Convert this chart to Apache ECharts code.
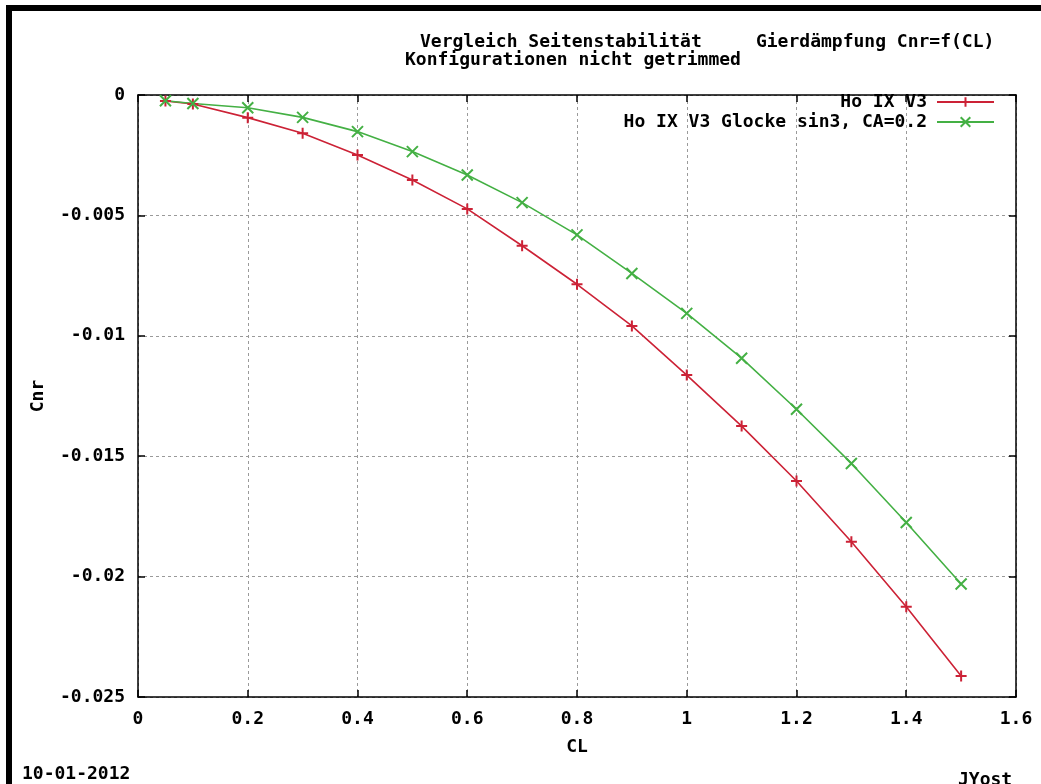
<!DOCTYPE html>
<html>
<head>
<meta charset="utf-8">
<script src="https://cdn.jsdelivr.net/npm/echarts@6/dist/echarts.min.js"></script>
<style>
html,body{margin:0;padding:0;background:#fff;}
#chart{width:1041px;height:784px;}
</style>
</head>
<body>
<div id="chart"></div>
<script>
// Data
var cl = [0.05, 0.1, 0.2, 0.3, 0.4, 0.5, 0.6, 0.7, 0.8, 0.9, 1.0, 1.1, 1.2, 1.3, 1.4, 1.5];
var hoIXV3 = [-0.00025, -0.00037, -0.00094, -0.00159, -0.00249, -0.00353, -0.00473, -0.00626, -0.00786, -0.00959, -0.01163, -0.01375, -0.01603, -0.01855, -0.02125, -0.02413];
var glocke = [-0.00024, -0.00035, -0.00053, -0.00093, -0.00152, -0.00235, -0.00332, -0.00447, -0.00581, -0.00741, -0.00907, -0.01093, -0.01305, -0.0153, -0.01775, -0.02031];
var seriesNames = ['Ho IX V3', 'Ho IX V3 Glocke sin3, CA=0.2'];
var titleLine1 = 'Vergleich Seitenstabilität     Gierdämpfung Cnr=f(CL)';
var titleLine2 = 'Konfigurationen nicht getrimmed';
var xName = 'CL';
var yName = 'Cnr';
var dateText = '10-01-2012';
var authorText = 'JYost';

function pairs(xs, ys) { return xs.map(function (x, i) { return [x, ys[i]]; }); }

var FONT = 'DejaVu Sans Mono';
var RED = '#cc2236';
var GREEN = '#44b044';
var tickFont = { fontFamily: FONT, fontWeight: 'bold', fontSize: 18, color: '#000' };

var chart = echarts.init(document.getElementById('chart'), null, { renderer: 'canvas' });
var gridLine = { show: true, lineStyle: { color: '#9a9a9a', type: [3, 3], width: 1 } };
var axisLine = { show: true, onZero: false, lineStyle: { color: '#000', width: 1.5 } };
var axisTick = { show: true, inside: true, length: 7, lineStyle: { color: '#000', width: 1.5 } };

chart.setOption({
  backgroundColor: '#fff',
  animation: false,
  grid: { left: 138, right: 25, top: 95, bottom: 87, containLabel: false },
  legend: {
    orient: 'vertical', right: 41, top: 88, align: 'right',
    itemWidth: 57, itemHeight: 12, itemGap: 2,
    textStyle: { fontFamily: FONT, fontWeight: 'bold', fontSize: 18, lineHeight: 18, color: '#000', padding: [0, 5, 0, 0] },
    data: seriesNames
  },
  xAxis: [{
    type: 'value', min: 0, max: 1.6, interval: 0.2,
    name: xName, nameLocation: 'middle', nameGap: 41,
    nameTextStyle: tickFont,
    axisLine: axisLine, axisTick: axisTick, splitLine: gridLine,
    axisLabel: Object.assign({ margin: 13 }, tickFont)
  }, {
    type: 'value', min: 0, max: 1.6, interval: 0.2, position: 'top',
    axisLine: axisLine, axisTick: axisTick, splitLine: { show: false }, axisLabel: { show: false }
  }],
  yAxis: [{
    type: 'value', min: -0.025, max: 0, interval: 0.005,
    name: yName, nameLocation: 'middle', nameGap: 91, nameRotate: 90,
    nameTextStyle: tickFont,
    axisLine: axisLine, axisTick: axisTick, splitLine: gridLine,
    axisLabel: Object.assign({ margin: 13 }, tickFont)
  }, {
    type: 'value', min: -0.025, max: 0, interval: 0.005, position: 'right',
    axisLine: axisLine, axisTick: axisTick, splitLine: { show: false }, axisLabel: { show: false }
  }],
  series: [{
    name: seriesNames[0], type: 'line', data: pairs(cl, hoIXV3),
    symbol: 'path://M5,0L5,10M0,5L10,5', symbolSize: 11, showAllSymbol: true,
    lineStyle: { color: RED, width: 1.6 },
    itemStyle: { color: RED, borderColor: RED, borderWidth: 2 }
  }, {
    name: seriesNames[1], type: 'line', data: pairs(cl, glocke),
    symbol: 'path://M0,0L10,10M10,0L0,10', symbolSize: 11, showAllSymbol: true,
    lineStyle: { color: GREEN, width: 1.6 },
    itemStyle: { color: GREEN, borderColor: GREEN, borderWidth: 2 }
  }],
  graphic: [
    { type: 'rect', left: 6, top: 5, shape: { width: 1035, height: 6 }, style: { fill: '#000' }, silent: true },
    { type: 'rect', left: 6, top: 5, shape: { width: 6, height: 779 }, style: { fill: '#000' }, silent: true },
    { type: 'text', left: 420, top: 33, style: { text: titleLine1, font: 'bold 18px "DejaVu Sans Mono"', fill: '#000' } },
    { type: 'text', left: 405, top: 51, style: { text: titleLine2, font: 'bold 18px "DejaVu Sans Mono"', fill: '#000' } },
    { type: 'text', left: 22, top: 765, style: { text: dateText, font: 'bold 18px "DejaVu Sans Mono"', fill: '#000' } },
    { type: 'text', left: 958, top: 771, style: { text: authorText, font: 'bold 18px "DejaVu Sans Mono"', fill: '#000' } }
  ]
});
</script>
</body>
</html>
